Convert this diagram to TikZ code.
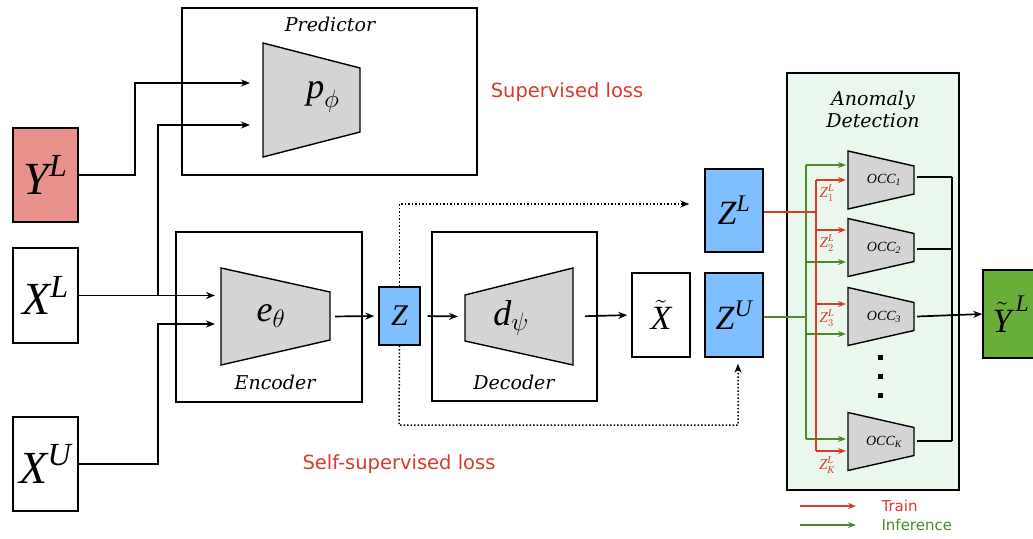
\RequirePackage{fix-cm}
\documentclass[tikz,border=0pt]{standalone}
\usepackage{amsmath}
\usepackage{fontspec}
\newfontfamily\sansfnt{DejaVu Sans}
\newfontfamily\slabfnt{DejaVu Serif}
\newfontfamily\varfnt{Liberation Serif}
\newcommand{\V}[1]{\text{\varfnt\itshape #1}}
\usetikzlibrary{arrows.meta}

\definecolor{salmon}{HTML}{E8918A}
\definecolor{zblue}{HTML}{80BFFF}
\definecolor{ygreen}{HTML}{6AAE3A}
\definecolor{adfill}{HTML}{EAF7EC}
\definecolor{trapgray}{HTML}{D4D4D4}
\definecolor{lossred}{HTML}{D93A2B}
\definecolor{infgreen}{HTML}{4A8A2A}

\tikzset{
  frame/.style={draw, line width=1.4pt, inner sep=0pt},
  varbox/.style={frame, font=\fontsize{46}{46}\selectfont},
  midbox/.style={frame, font=\fontsize{34}{34}\selectfont},
  trap/.style={draw, line width=1.4pt, fill=trapgray, line join=miter},
  hold/.style={inner sep=0pt, outer sep=0pt},
  netlabel/.style={font=\fontsize{36}{36}\selectfont},
  conn/.style={line width=1.7pt, -{Stealth[length=9pt,width=7pt]}},
  wire/.style={line width=1.6pt},
  dots/.style={line width=1.5pt, dotted, -{Stealth[length=9pt,width=7pt]}},
  redc/.style={draw=lossred, line width=1.3pt},
  grnc/.style={draw=infgreen, line width=1.3pt},
  redarr/.style={redc, -{Stealth[length=8pt,width=6pt]}, color=lossred},
  grnarr/.style={grnc, -{Stealth[length=8pt,width=6pt]}, color=infgreen},
  title/.style={font=\slabfnt\itshape\fontsize{19}{23}\selectfont},
  loss/.style={font=\sansfnt\fontsize{19.5}{22}\selectfont, text=lossred},
  legend/.style={font=\sansfnt\fontsize{15}{15}\selectfont, anchor=west},
  occlabel/.style={font=\fontsize{14}{14}\selectfont},
  zlab/.style={font=\fontsize{15}{15}\selectfont, text=lossred, inner sep=0pt},
}

\begin{document}
\begin{tikzpicture}[x=1pt, y=-1pt]
\useasboundingbox (0,0) rectangle (1033,538);

% ---- anomaly detection panel (background) ----
\node[frame, fill=adfill, minimum width=172pt, minimum height=417pt] (ad) at (873,281.5) {};
\node[title, align=center] (adt) at (873,109) {Anomaly\\[-1pt]Detection};

% ---- outer frames ----
\node[frame, minimum width=295pt, minimum height=167pt] (predbox) at (329.5,91.5) {};
\node[title] (predt) at (330,24) {Predictor};
\node[frame, minimum width=186pt, minimum height=170pt] (encbox) at (269,317) {};
\node[title] (enct) at (275,382) {Encoder};
\node[frame, minimum width=165pt, minimum height=169pt] (decbox) at (514.5,316.5) {};
\node[title] (dect) at (514,382) {Decoder};

% ---- variable boxes ----
\node[varbox, fill=salmon, minimum width=65pt, minimum height=94pt] (yl) at (45.5,175) {$\V{Y}^{\V{L}}$};
\node[varbox, minimum width=65pt, minimum height=95pt] (xl) at (45.5,295.5) {$\V{X}^{\V{L}}$};
\node[varbox, minimum width=65pt, minimum height=94pt] (xu) at (45.5,464) {$\V{X}^{\V{U}}$};
\node[frame, fill=zblue, minimum width=41pt, minimum height=58pt, font=\fontsize{30}{30}\selectfont] (z) at (399.5,316) {$\V{Z}$};
\node[midbox, minimum width=58pt, minimum height=84pt] (xt) at (661,315) {$\tilde{\V{X}}$};
\node[midbox, fill=zblue, minimum width=58pt, minimum height=84pt] (zu) at (734,315) {$\V{Z}^{\V{U}}$};
\node[midbox, fill=zblue, minimum width=58pt, minimum height=83pt] (zl) at (734,210.5) {$\V{Z}^{\V{L}}$};
\node[midbox, fill=ygreen, minimum width=56pt, minimum height=88pt] (yt) at (1011,314) {$\tilde{\V{Y}}^{\,\V{L}}$};

% ---- trapezoid networks ----
\draw[trap] (263,43) -- (360,68) -- (360,132) -- (263,157) -- cycle;
\node[hold, minimum width=97pt, minimum height=114pt] (pred) at (311.5,100) {};
\node[netlabel] (predl) at (323,97) {$\V{p}_{\phi}$};

\draw[trap] (221,268) -- (330,292) -- (330,340) -- (221,365) -- cycle;
\node[hold, minimum width=109pt, minimum height=97pt] (enc) at (275.5,316.5) {};
\node[netlabel] (encl) at (271,316) {$\V{e}_{\theta}$};

\draw[trap] (465,295) -- (573,268) -- (573,365) -- (465,341) -- cycle;
\node[hold, minimum width=108pt, minimum height=97pt] (dec) at (519,316.5) {};
\node[netlabel] (decl) at (511,318) {$\V{d}_{\psi}$};

% one-class classifiers
\foreach \n/\c/\s in {1/180/1, 2/247.5/2, 3/316.5/3, 4/441.5/K}{
  \draw[trap] (848,\c-29) -- (914,\c-14) -- (914,\c+14) -- (848,\c+29) -- cycle;
  \node[hold, minimum width=66pt, minimum height=58pt, occlabel] (occ\n) at (884,\c) {$\V{OCC}_{\V{\s}}$};
}
\foreach \y in {357,376,395}
  \fill (878,\y-2.5) rectangle (883,\y+2.5);

% ---- inputs to predictor and encoder ----
\coordinate (pin1) at ([yshift=17pt]pred.west);
\coordinate (pin2) at ([yshift=-25pt]pred.west);
\coordinate (ein1) at ([yshift=20.5pt]enc.west);
\coordinate (ein2) at ([yshift=-7.5pt]enc.west);
\coordinate (split) at (158,296);

\draw[conn, shorten >=13pt] (yl.east) -- (135,175) |- (pin1);
\draw[conn, shorten >=6pt] (xl.east) -- (xl.east -| ein1);
\draw[conn, shorten >=13pt] (split) |- (pin2);
\draw[conn, shorten >=6pt] (xu.east) -- (158,464) |- (ein2);

% ---- encoder / decoder chain ----
\draw[conn, shorten <=5pt, shorten >=4pt] (enc.east) -- (z.west);
\draw[conn, shorten <=7pt, shorten >=7pt] (z.east) -- (dec.west);
\draw[conn, shorten <=12pt, shorten >=4pt] (dec.east) -- (xt.west);

% ---- latent codes to the detector inputs ----
\draw[dots, shorten >=15pt] (z.north) |- (zl.west |- 0,204);
\coordinate (zuin) at ([xshift=4pt]zu.south);
\draw[dots, shorten >=6pt] (z.south) -- (399,425) -| (zuin);

% ---- training (red) and inference (green) routing ----
\draw[grnc] (zu.east |- 0,317) -- (806,317);
\draw[grnc] (806,165) -- (806,439);
\foreach \n/\y in {1/165, 2/262, 3/334, 4/439}
  \draw[grnarr, shorten >=5pt] (806,\y) -- (occ\n.west |- 0,\y);

\draw[redc] (zl.east |- 0,212) -- (816,212);
\draw[redc] (816,180) -- (816,451);
\foreach \n/\y in {1/180, 2/230, 3/304, 4/451}
  \draw[redarr, shorten >=5pt] (816,\y) -- (occ\n.west |- 0,\y);

\node[zlab] (z1) at (827,193) {$\V{Z}^{\V{L}}_{1}$};
\node[zlab] (z2) at (827,243) {$\V{Z}^{\V{L}}_{2}$};
\node[zlab] (z3) at (827,318) {$\V{Z}^{\V{L}}_{3}$};
\node[zlab] (zk) at (827,465) {$\V{Z}^{\V{L}}_{\V{K}}$};

% ---- classifier outputs ----
\foreach \n/\y in {1/177, 2/249, 4/441}
  \draw[wire] (occ\n.east |- 0,\y) -- (952,\y);
\draw[wire] (952,177) -- (952,441);
\draw[conn] (occ3.east) -- (yt.west);

% ---- loss captions ----
\node[loss] (sup) at (567,92) {Supervised loss};
\node[loss] (ssup) at (399,464) {Self-supervised loss};

% ---- legend ----
\coordinate (lr1) at (800,506);
\coordinate (lr2) at (856,506);
\coordinate (lg1) at (800,525);
\coordinate (lg2) at (856,525);
\draw[redarr] (lr1) -- (lr2);
\draw[grnarr] (lg1) -- (lg2);
\node[legend, text=lossred] (train) at (878,506) {Train};
\node[legend, text=infgreen] (inf) at (878,525) {Inference};
\end{tikzpicture}
\end{document}
